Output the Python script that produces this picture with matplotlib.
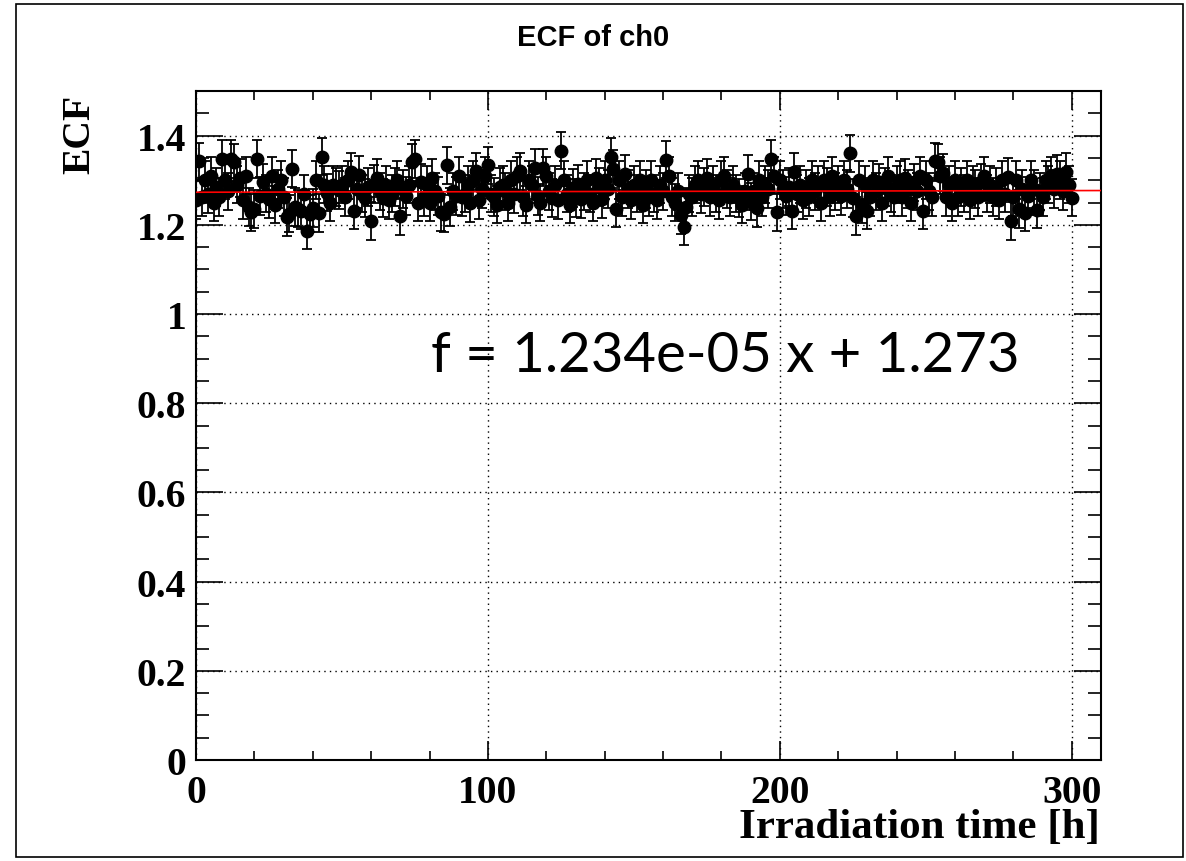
import matplotlib
matplotlib.use("Agg")
import matplotlib.pyplot as plt
from matplotlib.patches import Rectangle
from matplotlib.ticker import MultipleLocator

# ---- data ----
hours = list(range(0, 301))
ecf = [
    1.256, 1.342, 1.262, 1.300, 1.268, 1.310, 1.250, 1.285, 1.262, 1.348,
    1.300, 1.275, 1.348, 1.340, 1.290, 1.305, 1.255, 1.310, 1.240, 1.228,
    1.235, 1.348, 1.265, 1.295, 1.270, 1.258, 1.310, 1.245, 1.280, 1.300,
    1.262, 1.218, 1.225, 1.326, 1.240, 1.236, 1.232, 1.270, 1.187, 1.225,
    1.238, 1.300, 1.226, 1.353, 1.290, 1.272, 1.250, 1.290, 1.285, 1.278,
    1.290, 1.262, 1.300, 1.318, 1.232, 1.280, 1.312, 1.270, 1.260, 1.285,
    1.209, 1.292, 1.305, 1.275, 1.260, 1.290, 1.255, 1.270, 1.285, 1.300,
    1.219, 1.280, 1.265, 1.290, 1.340, 1.348, 1.250, 1.295, 1.262, 1.290,
    1.250, 1.305, 1.275, 1.265, 1.228, 1.225, 1.333, 1.240, 1.275, 1.265,
    1.310, 1.262, 1.270, 1.290, 1.248, 1.300, 1.320, 1.255, 1.280, 1.310,
    1.333, 1.270, 1.262, 1.245, 1.285, 1.290, 1.275, 1.250, 1.300, 1.268,
    1.310, 1.320, 1.262, 1.245, 1.300, 1.290, 1.328, 1.265, 1.250, 1.328,
    1.310, 1.275, 1.260, 1.290, 1.255, 1.366, 1.300, 1.270, 1.245, 1.282,
    1.260, 1.292, 1.258, 1.275, 1.300, 1.270, 1.250, 1.305, 1.285, 1.258,
    1.300, 1.280, 1.353, 1.325, 1.236, 1.300, 1.262, 1.315, 1.280, 1.255,
    1.290, 1.270, 1.300, 1.245, 1.280, 1.262, 1.300, 1.270, 1.255, 1.290,
    1.275, 1.346, 1.310, 1.262, 1.250, 1.275, 1.222, 1.196, 1.240, 1.270,
    1.262, 1.290, 1.300, 1.268, 1.285, 1.305, 1.262, 1.290, 1.270, 1.255,
    1.300, 1.310, 1.280, 1.262, 1.290, 1.270, 1.260, 1.245, 1.275, 1.315,
    1.252, 1.275, 1.238, 1.300, 1.262, 1.290, 1.280, 1.348, 1.310, 1.229,
    1.300, 1.280, 1.265, 1.285, 1.232, 1.319, 1.270, 1.290, 1.255, 1.280,
    1.262, 1.300, 1.275, 1.290, 1.250, 1.300, 1.285, 1.262, 1.310, 1.275,
    1.290, 1.265, 1.300, 1.280, 1.360, 1.260, 1.220, 1.300, 1.245, 1.290,
    1.232, 1.262, 1.300, 1.275, 1.295, 1.250, 1.285, 1.310, 1.270, 1.262,
    1.290, 1.300, 1.262, 1.305, 1.280, 1.250, 1.295, 1.275, 1.310, 1.232,
    1.300, 1.275, 1.262, 1.342, 1.340, 1.310, 1.317, 1.262, 1.290, 1.250,
    1.300, 1.262, 1.285, 1.270, 1.300, 1.255, 1.290, 1.280, 1.262, 1.295,
    1.310, 1.270, 1.290, 1.262, 1.285, 1.255, 1.300, 1.270, 1.308, 1.209,
    1.262, 1.300, 1.235, 1.280, 1.227, 1.265, 1.300, 1.280, 1.234, 1.275,
    1.262, 1.300, 1.290, 1.310, 1.280, 1.315, 1.300, 1.275, 1.319, 1.290,
    1.261,
]
ecf_err = 0.042
fit_slope = 1.234e-05
fit_intercept = 1.273
fit_range = [0, 310]

W, H = 1186, 862
fig = plt.figure(figsize=(W / 100, H / 100), dpi=100)

# outer frame (canvas border)
fig.patches.append(Rectangle((16 / W, 1 - 858 / H), (1183 - 16) / W, (858 - 5) / H,
                             transform=fig.transFigure, fill=False,
                             edgecolor="black", linewidth=1.2))

ax = fig.add_axes([196 / W, 1 - 761 / H, (1101 - 196) / W, (761 - 92) / H])

ax.errorbar(hours, ecf, yerr=ecf_err, fmt="o", color="black", markersize=9,
            elinewidth=1.3, capsize=3.5, capthick=1.3, zorder=3)

fx = fit_range
fy = [fit_intercept + fit_slope * v for v in fx]
ax.plot(fx, fy, color="red", linewidth=1.2, zorder=4)

ax.set_xlim(0, 310)
ax.set_ylim(0, 1.5)
ax.xaxis.set_major_locator(MultipleLocator(100))
ax.xaxis.set_minor_locator(MultipleLocator(20))
ax.yaxis.set_major_locator(MultipleLocator(0.2))
ax.yaxis.set_minor_locator(MultipleLocator(0.05))
ax.grid(True, which="major", color="black", linestyle=(0, (1, 3)), linewidth=1.0)

ax.tick_params(axis="both", which="both", direction="in", top=True, right=True,
               width=1.2, colors="black")
ax.tick_params(axis="x", which="major", length=13.5, pad=10)
ax.tick_params(axis="x", which="minor", length=6.8)
ax.tick_params(axis="y", which="major", length=19.5, pad=7)
ax.tick_params(axis="y", which="minor", length=9.5)
for sp in ax.spines.values():
    sp.set_linewidth(1.5)

tick_font = dict(family="Liberation Serif", weight="bold", size=28.5)
ax.set_xticks([0, 100, 200, 300])
ax.set_xticklabels(["0", "100", "200", "300"], fontdict=tick_font)
yt = [0, 0.2, 0.4, 0.6, 0.8, 1.0, 1.2, 1.4]
ax.set_yticks(yt)
ax.set_yticklabels(["0", "0.2", "0.4", "0.6", "0.8", "1", "1.2", "1.4"], fontdict=tick_font)

fig.text(1100 / W, 1 - 828 / H, "Irradiation time [h]", ha="right", va="center",
         family="Liberation Serif", weight="bold", size=31)
fig.text(80 / W, 1 - 134 / H, "ECF", ha="center", va="center", rotation=90,
         family="Liberation Serif", weight="bold", size=28.5)
fig.text(593 / W, 1 - 38 / H, "ECF of ch0", ha="center", va="center",
         family="Liberation Sans", weight="bold", size=21)

fig.text(725 / W, 1 - 357 / H, f"f = {fit_slope:.3e} x + {fit_intercept:.3f}",
         ha="center", va="center", family="Lato", size=40.5)

fig.savefig("out.png", dpi=100)
